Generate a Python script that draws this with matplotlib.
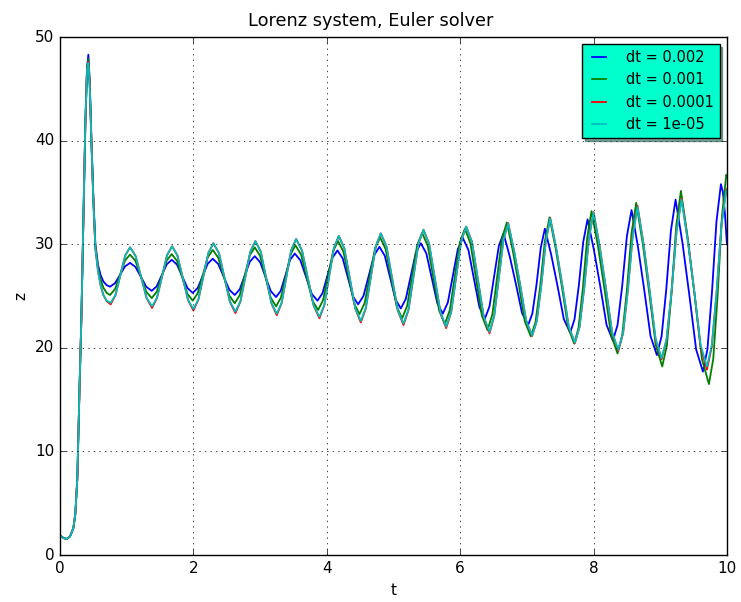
import matplotlib
matplotlib.use("Agg")
import matplotlib.pyplot as plt

plt.style.use('classic')

# values (peaks, troughs and flank points)
labels = ['dt = 0.002', 'dt = 0.001', 'dt = 0.0001', 'dt = 1e-05']
colors = ['b', 'g', 'r', 'c']

t_b = [0.0, 0.05, 0.1, 0.15, 0.2, 0.23, 0.26, 0.29, 0.32, 0.35, 0.38, 0.405, 0.425, 0.445, 0.47, 0.5, 0.53, 0.57, 0.61, 0.65, 0.70,
       0.75, 0.825, 0.90, 0.975,
       1.05, 1.131, 1.213, 1.294,
       1.375, 1.45, 1.525, 1.60,
       1.675, 1.754, 1.833, 1.911,
       1.99, 2.065, 2.14, 2.215,
       2.29, 2.373, 2.455, 2.538,
       2.62, 2.695, 2.77, 2.845,
       2.92, 3.0, 3.08, 3.16,
       3.24, 3.31, 3.38, 3.45,
       3.52, 3.605, 3.69, 3.775,
       3.86, 3.935, 4.01, 4.085,
       4.16, 4.238, 4.315, 4.393,
       4.47, 4.55, 4.63, 4.71,
       4.79, 4.87, 4.95, 5.03,
       5.11, 5.185, 5.26, 5.335,
       5.41, 5.493, 5.575, 5.658,
       5.74, 5.815, 5.89, 5.965,
       6.04, 6.123, 6.205, 6.288,
       6.37, 6.44, 6.51, 6.58,
       6.65, 6.743, 6.835, 6.928,
       7.02, 7.083, 7.145, 7.208,
       7.27, 7.365, 7.46, 7.555,
       7.65, 7.715, 7.78, 7.845,
       7.91, 8.005, 8.10, 8.195,
       8.29, 8.36, 8.43, 8.50,
       8.57, 8.665, 8.76, 8.855,
       8.95, 9.02, 9.09, 9.16,
       9.23, 9.333, 9.435, 9.538,
       9.64, 9.708, 9.775, 9.843,
       9.91, 9.94, 9.97, 10.0]
z_b = [1.9, 1.65, 1.55, 1.8, 2.6, 4.0, 7.5, 15.5, 22.8, 32.0, 41.7, 47.0, 48.3, 45.8, 40.3, 34.5, 30.0, 28.0, 27.0, 26.4, 26.05,
       25.9, 26.24, 27.05, 27.86,
       28.2, 27.81, 26.85, 25.89,
       25.5, 25.94, 27.0, 28.06,
       28.5, 28.03, 26.9, 25.77,
       25.3, 25.78, 26.95, 28.12,
       28.6, 28.09, 26.85, 25.61,
       25.1, 25.65, 26.98, 28.30,
       28.85, 28.27, 26.88, 25.48,
       24.9, 25.51, 27.0, 28.49,
       29.1, 28.44, 26.83, 25.21,
       24.55, 25.26, 26.98, 28.69,
       29.4, 28.64, 26.8, 24.96,
       24.2, 25.01, 26.98, 28.94,
       29.75, 28.88, 26.78, 24.67,
       23.8, 24.72, 26.95, 29.18,
       30.1, 29.11, 26.7, 24.29,
       23.3, 24.37, 26.95, 29.53,
       30.6, 29.46, 26.7, 23.94,
       22.8, 24.0, 26.93, 29.85,
       31.05, 28.84, 26.18, 23.35,
       22.2, 23.32, 26.11, 29.64,
       31.5, 28.99, 25.97, 22.76,
       21.45, 22.76, 26.05, 30.21,
       32.4, 29.48, 25.97, 22.22,
       20.7, 22.21, 25.99, 30.78,
       33.3, 29.8, 25.6, 21.12,
       19.3, 21.1, 25.6, 31.3,
       34.3, 30.15, 25.17, 19.86,
       17.7, 19.87, 25.3, 32.18,
       35.8, 35.0, 33.0, 30.0]

t_g = [0.0, 0.05, 0.1, 0.15, 0.2, 0.23, 0.26, 0.29, 0.32, 0.35, 0.38, 0.405, 0.425, 0.445, 0.47, 0.5, 0.53, 0.57, 0.61, 0.65, 0.70,
       0.75, 0.825, 0.90, 0.975,
       1.05, 1.131, 1.213, 1.294,
       1.375, 1.45, 1.525, 1.60,
       1.675, 1.754, 1.833, 1.911,
       1.99, 2.065, 2.14, 2.215,
       2.29, 2.373, 2.455, 2.538,
       2.62, 2.695, 2.77, 2.845,
       2.92, 3.0, 3.08, 3.16,
       3.24, 3.313, 3.385, 3.458,
       3.53, 3.615, 3.70, 3.785,
       3.87, 3.945, 4.02, 4.095,
       4.17, 4.25, 4.33, 4.41,
       4.49, 4.568, 4.645, 4.723,
       4.80, 4.883, 4.965, 5.048,
       5.13, 5.205, 5.28, 5.355,
       5.43, 5.515, 5.60, 5.685,
       5.77, 5.845, 5.92, 5.995,
       6.07, 6.155, 6.24, 6.325,
       6.41, 6.483, 6.555, 6.628,
       6.70, 6.79, 6.88, 6.97,
       7.06, 7.13, 7.20, 7.27,
       7.34, 7.433, 7.525, 7.618,
       7.71, 7.775, 7.84, 7.905,
       7.97, 8.068, 8.165, 8.263,
       8.36, 8.43, 8.50, 8.57,
       8.64, 8.738, 8.835, 8.933,
       9.03, 9.10, 9.17, 9.24,
       9.31, 9.415, 9.52, 9.625,
       9.73, 9.795, 9.86, 9.925,
       9.99, 10.0]
z_g = [1.9, 1.65, 1.55, 1.8, 2.6, 4.0, 7.5, 15.5, 22.8, 32.0, 41.7, 47.0, 47.9, 45.6, 40.1, 34.3, 29.8, 27.7, 26.6, 25.8, 25.3,
       25.1, 25.67, 27.05, 28.43,
       29.0, 28.39, 26.9, 25.41,
       24.8, 25.42, 26.93, 28.43,
       29.05, 28.39, 26.8, 25.21,
       24.55, 25.27, 27.0, 28.73,
       29.45, 28.7, 26.88, 25.05,
       24.3, 25.09, 27.0, 28.91,
       29.7, 28.87, 26.85, 24.83,
       24.0, 24.86, 26.95, 29.04,
       29.9, 28.99, 26.78, 24.56,
       23.65, 24.62, 26.98, 29.33,
       30.3, 29.27, 26.78, 24.28,
       23.25, 24.33, 26.95, 29.57,
       30.65, 29.51, 26.75, 23.99,
       22.85, 24.05, 26.98, 29.9,
       31.1, 29.82, 26.7, 23.59,
       22.3, 23.64, 26.9, 30.16,
       31.5, 30.07, 26.6, 23.13,
       21.7, 23.22, 26.9, 30.58,
       32.1, 29.35, 26.05, 22.53,
       21.1, 22.48, 25.93, 30.3,
       32.6, 29.55, 25.89, 21.99,
       20.4, 21.94, 25.78, 30.64,
       33.2, 29.76, 25.64, 21.24,
       19.45, 21.2, 25.56, 31.09,
       34.0, 30.05, 25.31, 20.25,
       18.2, 20.23, 25.32, 31.76,
       35.15, 30.49, 24.89, 18.92,
       16.5, 18.92, 24.98, 32.66,
       36.7, 36.6]

# dt = 0.0001 and dt = 1e-05 almost coincide, so they share the time samples
t_c = [0.0, 0.05, 0.1, 0.15, 0.2, 0.23, 0.26, 0.29, 0.32, 0.35, 0.38, 0.405, 0.425, 0.445, 0.47, 0.5, 0.53, 0.57, 0.61, 0.65, 0.70,
       0.76, 0.833, 0.905, 0.978,
       1.05, 1.133, 1.215, 1.298,
       1.38, 1.455, 1.53, 1.605,
       1.68, 1.76, 1.84, 1.92,
       2.0, 2.075, 2.15, 2.225,
       2.30, 2.383, 2.465, 2.548,
       2.63, 2.705, 2.78, 2.855,
       2.93, 3.01, 3.09, 3.17,
       3.25, 3.323, 3.395, 3.468,
       3.54, 3.628, 3.715, 3.803,
       3.89, 3.963, 4.035, 4.108,
       4.18, 4.263, 4.345, 4.428,
       4.51, 4.585, 4.66, 4.735,
       4.81, 4.895, 4.98, 5.065,
       5.15, 5.225, 5.30, 5.375,
       5.45, 5.535, 5.62, 5.705,
       5.79, 5.865, 5.94, 6.015,
       6.09, 6.178, 6.265, 6.353,
       6.44, 6.51, 6.58, 6.65,
       6.72, 6.81, 6.90, 6.99,
       7.08, 7.148, 7.215, 7.283,
       7.35, 7.443, 7.535, 7.628,
       7.72, 7.79, 7.86, 7.93,
       8.00, 8.093, 8.185, 8.278,
       8.37, 8.443, 8.515, 8.588,
       8.66, 8.75, 8.84, 8.93,
       9.02, 9.095, 9.17, 9.245,
       9.32, 9.415, 9.51, 9.605,
       9.70, 9.773, 9.845, 9.918,
       9.99, 10.0]
z_c = [1.9, 1.65, 1.55, 1.8, 2.6, 4.0, 7.5, 15.5, 22.8, 32.0, 41.7, 46.8, 47.5, 45.4, 40.0, 34.2, 29.6, 27.4, 26.0, 25.1, 24.55,
       24.35, 25.13, 27.03, 28.92,
       29.7, 28.87, 26.85, 24.83,
       24.0, 24.85, 26.9, 28.95,
       29.8, 28.92, 26.78, 24.63,
       23.75, 24.68, 26.93, 29.17,
       30.1, 29.14, 26.8, 24.46,
       23.5, 24.49, 26.9, 29.31,
       30.3, 29.28, 26.8, 24.32,
       23.3, 24.35, 26.9, 29.45,
       30.5, 29.41, 26.75, 24.1,
       23.0, 24.14, 26.9, 29.66,
       30.8, 29.6, 26.7, 23.8,
       22.6, 23.83, 26.83, 29.82,
       31.05, 29.78, 26.7, 23.62,
       22.35, 23.67, 26.88, 30.08,
       31.4, 30.03, 26.73, 23.42,
       22.05, 23.46, 26.88, 30.29,
       31.7, 30.22, 26.63, 23.03,
       21.55, 23.08, 26.78, 30.47,
       32.0, 29.3, 26.06, 22.6,
       21.2, 22.56, 25.95, 30.24,
       32.5, 29.5, 25.9, 22.06,
       20.5, 22.01, 25.77, 30.54,
       33.05, 29.74, 25.76, 21.52,
       19.8, 21.46, 25.6, 30.84,
       33.6, 29.95, 25.57, 20.9,
       19.0, 20.84, 25.43, 31.24,
       34.3, 30.28, 25.45, 20.29,
       18.2, 20.24, 25.34, 31.8,
       35.2, 35.2]
z_r = [1.9, 1.65, 1.55, 1.8, 2.6, 4.0, 7.5, 15.5, 22.8, 32.0, 41.7, 46.8, 47.6, 45.4, 40.0, 34.2, 29.6, 27.4, 26.0, 25.1, 24.5,
       24.2, 25.1, 27.03, 28.92,
       29.7, 28.87, 26.85, 24.8,
       23.85, 24.82, 26.9, 28.95,
       29.8, 28.92, 26.78, 24.6,
       23.6, 24.65, 26.93, 29.17,
       30.1, 29.14, 26.8, 24.43,
       23.35, 24.46, 26.9, 29.31,
       30.3, 29.28, 26.8, 24.29,
       23.15, 24.32, 26.9, 29.45,
       30.5, 29.41, 26.75, 24.07,
       22.85, 24.11, 26.9, 29.66,
       30.8, 29.6, 26.7, 23.77,
       22.45, 23.8, 26.83, 29.82,
       31.05, 29.78, 26.7, 23.59,
       22.2, 23.64, 26.88, 30.08,
       31.4, 30.03, 26.73, 23.39,
       21.9, 23.43, 26.88, 30.29,
       31.7, 30.22, 26.63, 23.0,
       21.4, 23.05, 26.78, 30.47,
       32.05, 29.3, 26.06, 22.6,
       21.15, 22.56, 25.95, 30.24,
       32.55, 29.5, 25.9, 22.06,
       20.45, 22.01, 25.77, 30.54,
       33.1, 29.74, 25.76, 21.5,
       19.7, 21.4, 25.6, 30.9,
       33.7, 30.0, 25.57, 20.8,
       18.9, 20.8, 25.43, 31.3,
       34.4, 30.3, 25.45, 20.1,
       17.9, 20.1, 25.34, 31.9,
       35.3, 35.3]

series = [(t_b, z_b), (t_g, z_g), (t_c, z_r), (t_c, z_c)]

plt.rcParams['font.size'] = 11
fig = plt.figure(figsize=(7.41, 6.02), dpi=100)
ax = fig.add_subplot(111)
fig.subplots_adjust(left=0.081, right=0.981, bottom=0.078, top=0.9385)

for (t, z), c, lab in zip(series, colors, labels):
    ax.plot(t, z, color=c, linewidth=1.3, label=lab)

ax.set_xlim(0, 10)
ax.set_ylim(0, 50)
ax.grid(True)
ax.set_xlabel('t', fontsize=11)
ax.set_ylabel('z', fontsize=11)
fig.suptitle('Lorenz system, Euler solver', fontsize=12.8, y=0.98)
ax.tick_params(labelsize=11)
leg = ax.legend(loc='upper right', shadow=True, fontsize=10.5,
                handlelength=1.5, handletextpad=1.1)
leg.get_frame().set_facecolor('#00ffcc')

fig.savefig('out.png', dpi=100)
